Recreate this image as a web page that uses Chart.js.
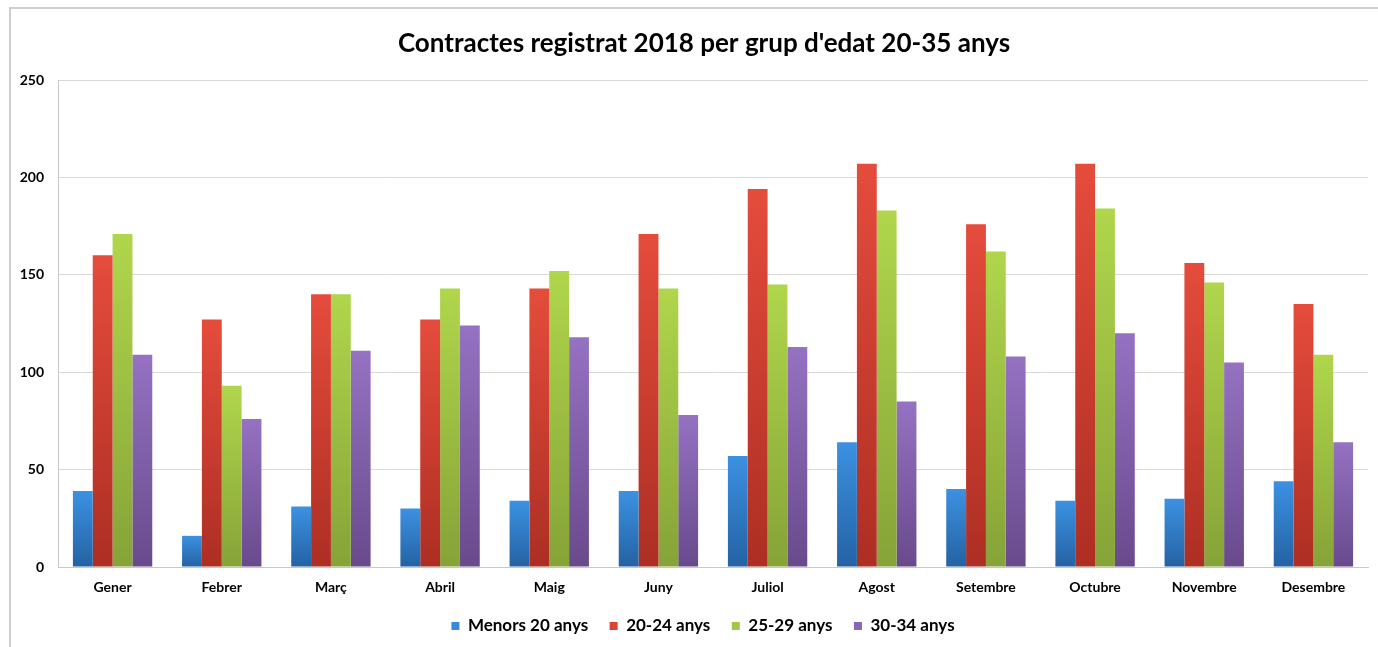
<!DOCTYPE html>
<html><head><meta charset="utf-8">
<script src="https://cdn.jsdelivr.net/npm/chart.js@4.4.0/dist/chart.umd.min.js"></script>
<style>
html,body{margin:0;padding:0;background:#fff;overflow:hidden;}
#frame{position:absolute;left:9px;top:7px;width:1400px;height:700px;border-left:2px solid #cfcfcf;border-top:2px solid #cfcfcf;}
#wrap{position:absolute;left:0;top:0;width:1378px;height:647px;}
</style></head><body>
<div id="frame"></div>
<div id="wrap"><canvas id="c"></canvas></div>
<script>
const titleText = "Contractes registrat 2018 per grup d'edat 20-35 anys";
const months = ["Gener","Febrer","Març","Abril","Maig","Juny","Juliol","Agost","Setembre","Octubre","Novembre","Desembre"];
const seriesNames = ["Menors 20 anys","20-24 anys","25-29 anys","30-34 anys"];
const menors20 = [39,16,31,30,34,39,57,64,40,34,35,44];
const anys20_24 = [160,127,140,127,143,171,194,207,176,207,156,135];
const anys25_29 = [171,93,140,143,152,143,145,183,162,184,146,109];
const anys30_34 = [109,76,111,124,118,78,113,85,108,120,105,64];
const yTicks = [0,50,100,150,200,250];

const topColors = ["#3c91e2","#e54c3c","#b0d64c","#9572c2"];
const bottomColors = ["#2462a3","#ad2e23","#86a338","#684a8c"];
const legendColors = ["#3a89d8","#da4434","#a2c645","#8866b6"];

function grad(i){
  return (ctx) => {
    const chart = ctx.chart;
    if (!chart.chartArea || ctx.type !== 'data') return topColors[i];
    const ys = chart.scales.y;
    const yTop = ys.getPixelForValue(ctx.raw);
    const yBot = ys.getPixelForValue(0);
    const g = chart.ctx.createLinearGradient(0, yTop, 0, yBot);
    g.addColorStop(0, topColors[i]);
    g.addColorStop(1, bottomColors[i]);
    return g;
  };
}

const allSeries = [menors20, anys20_24, anys25_29, anys30_34];
const datasets = allSeries.map((d, i) => ({
  label: seriesNames[i],
  data: d,
  backgroundColor: grad(i),
  borderWidth: 0,
  categoryPercentage: 0.727,
  barPercentage: 1.0
}));

const FONT = "Lato, 'Open Sans', sans-serif";

// shift title and legend horizontally to match the original centring
const shiftPlugin = {
  id: 'shift',
  afterLayout(chart) {
    if (chart.titleBlock) { chart.titleBlock.left += 13; chart.titleBlock.right += 13; }
    if (chart.legend) { chart.legend.left += 12; chart.legend.right += 12; }
  }
};

new Chart(document.getElementById('c'), {
  type: 'bar',
  data: { labels: months, datasets },
  plugins: [shiftPlugin],
  options: {
    responsive: true,
    maintainAspectRatio: false,
    animation: false,
    layout: { padding: { left: 14, right: 10, top: 0, bottom: 2.5 } },
    plugins: {
      tooltip: { enabled: false },
      title: {
        display: true,
        text: titleText,
        color: '#000',
        font: { family: FONT, size: 26, weight: 'bold' },
        padding: { top: 28.5, bottom: 20.3 }
      },
      legend: {
        position: 'bottom',
        labels: {
          boxWidth: 8,
          boxHeight: 8,
          padding: 21.5,
          color: '#000',
          font: { family: FONT, size: 17, weight: 'bold' },
          generateLabels: (chart) => {
            const items = Chart.defaults.plugins.legend.labels.generateLabels(chart);
            items.forEach((it, i) => { it.fillStyle = legendColors[i]; it.strokeStyle = legendColors[i]; it.lineWidth = 0; });
            return items;
          }
        }
      }
    },
    scales: {
      x: {
        grid: { display: false, drawTicks: false },
        border: { display: true, color: '#c8c8c8', width: 1 },
        ticks: { padding: 12, color: '#000', font: { family: FONT, size: 14, weight: 'bold' } },
        afterFit: (s) => { s.height = 29; }
      },
      y: {
        min: 0, max: 250,
        afterBuildTicks: (s) => { s.ticks = yTicks.map(v => ({ value: v })); },
        grid: { color: '#d9d9d9', lineWidth: 1, drawTicks: false },
        border: { display: true, color: '#c8c8c8', width: 1 },
        ticks: { padding: 14, color: '#000', font: { family: FONT, size: 14, weight: 'bold' } },
        afterFit: (s) => { s.width = 44; }
      }
    }
  }
});
</script>
</body></html>
